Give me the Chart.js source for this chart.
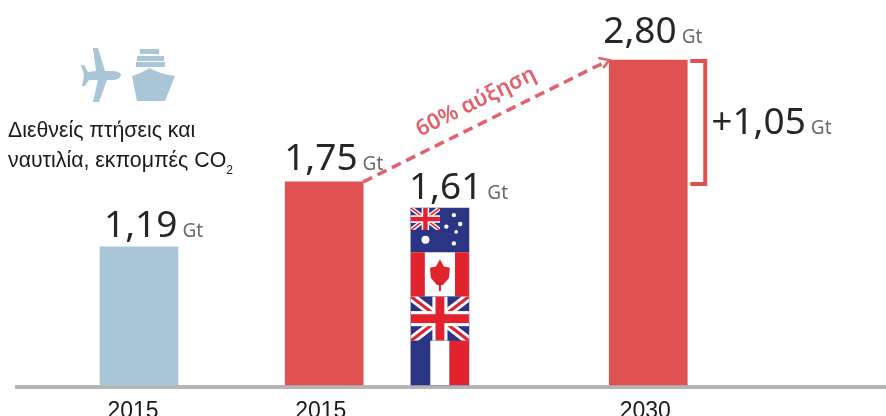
<!DOCTYPE html>
<html lang="el">
<head>
<meta charset="utf-8">
<title>Εκπομπές CO2</title>
<style>
    html, body { margin: 0; padding: 0; background: #fff; overflow: hidden; }
    #wrap { width: 886px; height: 416px; }
</style>
<script src="https://cdn.jsdelivr.net/npm/chart.js@4"></script>
</head>
<body>
<div id="wrap"><canvas id="emissionsChart" width="886" height="416"></canvas></div>
<script>
// x slots keep the uneven spacing of the bars; the year labels sit a little left of their bars
const tickSlots = [-0.26, 7.85, 21.87];
const years = ["2015", "2015", "2030"];
// bar heights as drawn (the flag bar stands lower than its 1,61 label)
const barValues = [1.19, 1.75, 2.80];
const barSlots = [0, 8, 22];
const barColors = ["#a8c6d8", "#e05252", "#e05252"];
const flagValue = [1.525];
const flagSlot = [13];
const valueLabels = ["1,19", "1,75", "1,61", "2,80"];
const unit = "Gt";
const increase = "+1,05";
const growthLabel = "60% αύξηση";
const captionLines = ["Διεθνείς πτήσεις και", "ναυτιλία, εκπομπές CO"];

const RED = "#e05252";
const BLUE = "#a8c6d8";
const INK = "#262626";
const GREY = "#6b6b6b";
const NUM_FONT = '37px "Noto Sans"';
const UNIT_FONT = '19px "Noto Sans"';

function valueText(ctx, text, x, y) {
    ctx.textAlign = "left";
    ctx.textBaseline = "alphabetic";
    ctx.font = NUM_FONT;
    ctx.fillStyle = INK;
    ctx.fillText(text, x, y);
    const w = ctx.measureText(text).width;
    ctx.font = UNIT_FONT;
    ctx.fillStyle = GREY;
    ctx.fillText(unit, x + w + 5, y);
}

function drawFlags(ctx, bar) {
    const left = bar.x - bar.width / 2;
    const top = bar.y;
    const w = bar.width;
    const h = (bar.base - bar.y) / 4;
    const navy = "#2b3583";
    const red = "#e2232e";

    function union(x, y, fw, fh) {
        ctx.save();
        ctx.beginPath();
        ctx.rect(x, y, fw, fh);
        ctx.clip();
        ctx.fillStyle = navy;
        ctx.fillRect(x, y, fw, fh);
        ctx.strokeStyle = "#fff";
        ctx.lineWidth = fh * 0.2;
        ctx.beginPath();
        ctx.moveTo(x, y); ctx.lineTo(x + fw, y + fh);
        ctx.moveTo(x + fw, y); ctx.lineTo(x, y + fh);
        ctx.stroke();
        ctx.strokeStyle = red;
        ctx.lineWidth = fh * 0.07;
        ctx.stroke();
        ctx.fillStyle = "#fff";
        ctx.fillRect(x + fw / 2 - fh * 0.17, y, fh * 0.34, fh);
        ctx.fillRect(x, y + fh * 0.33, fw, fh * 0.34);
        ctx.fillStyle = red;
        ctx.fillRect(x + fw / 2 - fh * 0.1, y, fh * 0.2, fh);
        ctx.fillRect(x, y + fh * 0.4, fw, fh * 0.2);
        ctx.restore();
    }

    function star(x, y, r) {
        ctx.fillStyle = "#fff";
        ctx.beginPath();
        ctx.arc(x, y, r, 0, Math.PI * 2);
        ctx.fill();
    }

    // Australia
    ctx.fillStyle = navy;
    ctx.fillRect(left, top, w, h);
    union(left, top, w / 2, h * 0.5);
    star(left + w * 0.25, top + h * 0.72, 4);
    star(left + w * 0.74, top + h * 0.16, 2.2);
    star(left + w * 0.61, top + h * 0.42, 2.2);
    star(left + w * 0.85, top + h * 0.36, 2.2);
    star(left + w * 0.78, top + h * 0.54, 1.8);
    star(left + w * 0.74, top + h * 0.8, 2.2);

    // Canada
    const cy = top + h;
    ctx.fillStyle = "#fff";
    ctx.fillRect(left, cy, w, h);
    ctx.fillStyle = red;
    ctx.fillRect(left, cy, w * 0.24, h);
    ctx.fillRect(left + w * 0.76, cy, w * 0.24, h);
    const mx = bar.x;
    ctx.beginPath();
    ctx.moveTo(mx, cy + h * 0.16);
    ctx.lineTo(mx + 4, cy + h * 0.32);
    ctx.lineTo(mx + 10, cy + h * 0.35);
    ctx.lineTo(mx + 9, cy + h * 0.58);
    ctx.lineTo(mx + 3, cy + h * 0.74);
    ctx.lineTo(mx + 1, cy + h * 0.74);
    ctx.lineTo(mx + 1, cy + h * 0.88);
    ctx.lineTo(mx - 1, cy + h * 0.88);
    ctx.lineTo(mx - 1, cy + h * 0.74);
    ctx.lineTo(mx - 3, cy + h * 0.74);
    ctx.lineTo(mx - 9, cy + h * 0.58);
    ctx.lineTo(mx - 10, cy + h * 0.35);
    ctx.lineTo(mx - 4, cy + h * 0.32);
    ctx.closePath();
    ctx.fill();

    // UK
    union(left, top + 2 * h, w, h);

    // France
    const fy = top + 3 * h;
    ctx.fillStyle = navy;
    ctx.fillRect(left, fy, w / 3, h);
    ctx.fillStyle = "#fff";
    ctx.fillRect(left + w / 3, fy, w / 3, h);
    ctx.fillStyle = red;
    ctx.fillRect(left + 2 * w / 3, fy, w / 3, h);
}

function drawIcons(ctx) {
    ctx.fillStyle = BLUE;
    // plane
    ctx.beginPath();
    ctx.moveTo(121, 75);
    ctx.quadraticCurveTo(120, 71, 112, 71);
    ctx.lineTo(105, 71);
    ctx.lineTo(98, 48);
    ctx.lineTo(93, 48);
    ctx.lineTo(96, 71);
    ctx.lineTo(88, 72);
    ctx.lineTo(84, 65);
    ctx.lineTo(81, 65);
    ctx.lineTo(84, 75);
    ctx.lineTo(82, 86);
    ctx.lineTo(85, 86);
    ctx.lineTo(89, 80);
    ctx.lineTo(98, 80);
    ctx.lineTo(93, 102);
    ctx.lineTo(99, 102);
    ctx.lineTo(107, 80);
    ctx.lineTo(112, 80);
    ctx.quadraticCurveTo(120, 80, 121, 75);
    ctx.fill();
    // ship
    ctx.fillRect(140, 49, 19, 5);
    ctx.fillRect(137, 56, 27, 5);
    ctx.fillRect(136, 62, 29, 5);
    ctx.beginPath();
    ctx.moveTo(132, 76);
    ctx.quadraticCurveTo(142, 73, 149.5, 68);
    ctx.quadraticCurveTo(157, 73, 175, 76);
    ctx.lineTo(165, 101);
    ctx.lineTo(137, 101);
    ctx.closePath();
    ctx.fill();
}

const annotations = {
    id: "annotations",
    afterDatasetsDraw(chart) {
        const ctx = chart.ctx;
        const bars = chart.getDatasetMeta(0).data;
        const flag = chart.getDatasetMeta(1).data[0];
        const blueBar = bars[0], redBar = bars[1], bigBar = bars[2];
        const yScale = chart.scales.y;

        ctx.save();
        drawFlags(ctx, flag);
        drawIcons(ctx);

        // caption
        ctx.fillStyle = "#1a1a1a";
        ctx.font = '21.3px "Liberation Sans"';
        ctx.textAlign = "left";
        ctx.textBaseline = "alphabetic";
        ctx.fillText(captionLines[0], 8, 137);
        ctx.fillText(captionLines[1], 8, 167);
        const capW = ctx.measureText(captionLines[1]).width;
        ctx.font = '12px "Liberation Sans"';
        ctx.fillText("2", 8 + capW, 174);

        // values
        valueText(ctx, valueLabels[0], blueBar.x - 35, blueBar.y - 10);
        valueText(ctx, valueLabels[1], redBar.x - 40, redBar.y - 12);
        valueText(ctx, valueLabels[2], flag.x - 31, flag.y - 9);
        valueText(ctx, valueLabels[3], bigBar.x - 45, bigBar.y - 17);

        // growth arrow
        const x1 = redBar.x + redBar.width / 2;
        const y1 = redBar.y;
        const x2 = bigBar.x - bigBar.width / 2;
        const y2 = bigBar.y;
        const angle = Math.atan2(y2 - y1, x2 - x1);
        ctx.strokeStyle = "#e4606c";
        ctx.lineWidth = 3.5;
        ctx.setLineDash([10, 6]);
        ctx.beginPath();
        ctx.moveTo(x1, y1);
        ctx.lineTo(x2 - 3, y2 + 1.5);
        ctx.stroke();
        ctx.setLineDash([]);
        ctx.lineWidth = 2.5;
        ctx.beginPath();
        ctx.moveTo(x2 - 11, y2 - 2);
        ctx.lineTo(x2, y2);
        ctx.lineTo(x2 - 6, y2 + 8);
        ctx.stroke();

        ctx.save();
        ctx.translate(476, 102);
        ctx.rotate(angle);
        ctx.fillStyle = "#e4606c";
        ctx.font = '600 22px "Noto Sans"';
        ctx.textAlign = "center";
        ctx.textBaseline = "middle";
        ctx.fillText(growthLabel, 0, 0);
        ctx.restore();

        // bracket between the two red bars' levels
        const bx = bigBar.x + bigBar.width / 2;
        const by1 = yScale.getPixelForValue(barValues[2]);
        const by2 = yScale.getPixelForValue(barValues[1]);
        ctx.strokeStyle = RED;
        ctx.lineWidth = 4;
        ctx.beginPath();
        ctx.moveTo(bx + 3, by1 + 1);
        ctx.lineTo(bx + 18, by1 + 1);
        ctx.lineTo(bx + 18, by2 + 2);
        ctx.lineTo(bx + 3, by2 + 2);
        ctx.stroke();
        valueText(ctx, increase, bx + 24, 134);
        ctx.restore();
    }
};

new Chart(document.getElementById("emissionsChart"), {
    type: "bar",
    data: {
        datasets: [
            {
                data: barSlots.map((s, i) => ({ x: s, y: barValues[i] })),
                backgroundColor: barColors,
                barThickness: 78,
                grouped: false
            },
            {
                data: flagSlot.map((s, i) => ({ x: s, y: flagValue[i] })),
                backgroundColor: "#2b3583",
                barThickness: 58,
                grouped: false
            }
        ]
    },
    plugins: [annotations],
    options: {
        responsive: false,
        animation: false,
        layout: { padding: { left: 17, right: 0, top: 0, bottom: 0 } },
        plugins: { legend: { display: false }, tooltip: { enabled: false } },
        scales: {
            x: {
                type: "linear",
                offset: false,
                min: -5.27,
                max: 32.27,
                grid: { display: false, offset: false },
                border: { display: true, color: "#b5b5b5", width: 4 },
                afterBuildTicks(axis) {
                    axis.ticks = tickSlots.map(v => ({ value: v }));
                },
                afterFit(axis) {
                    axis.height = 29;
                },
                ticks: {
                    autoSkip: false,
                    maxRotation: 0,
                    padding: 3,
                    color: "#1a1a1a",
                    font: { family: "Liberation Sans", size: 23 },
                    callback(value) {
                        return years[tickSlots.indexOf(value)];
                    }
                }
            },
            y: {
                display: false,
                min: -0.0172,
                max: 3.317
            }
        }
    }
});
</script>
</body>
</html>
